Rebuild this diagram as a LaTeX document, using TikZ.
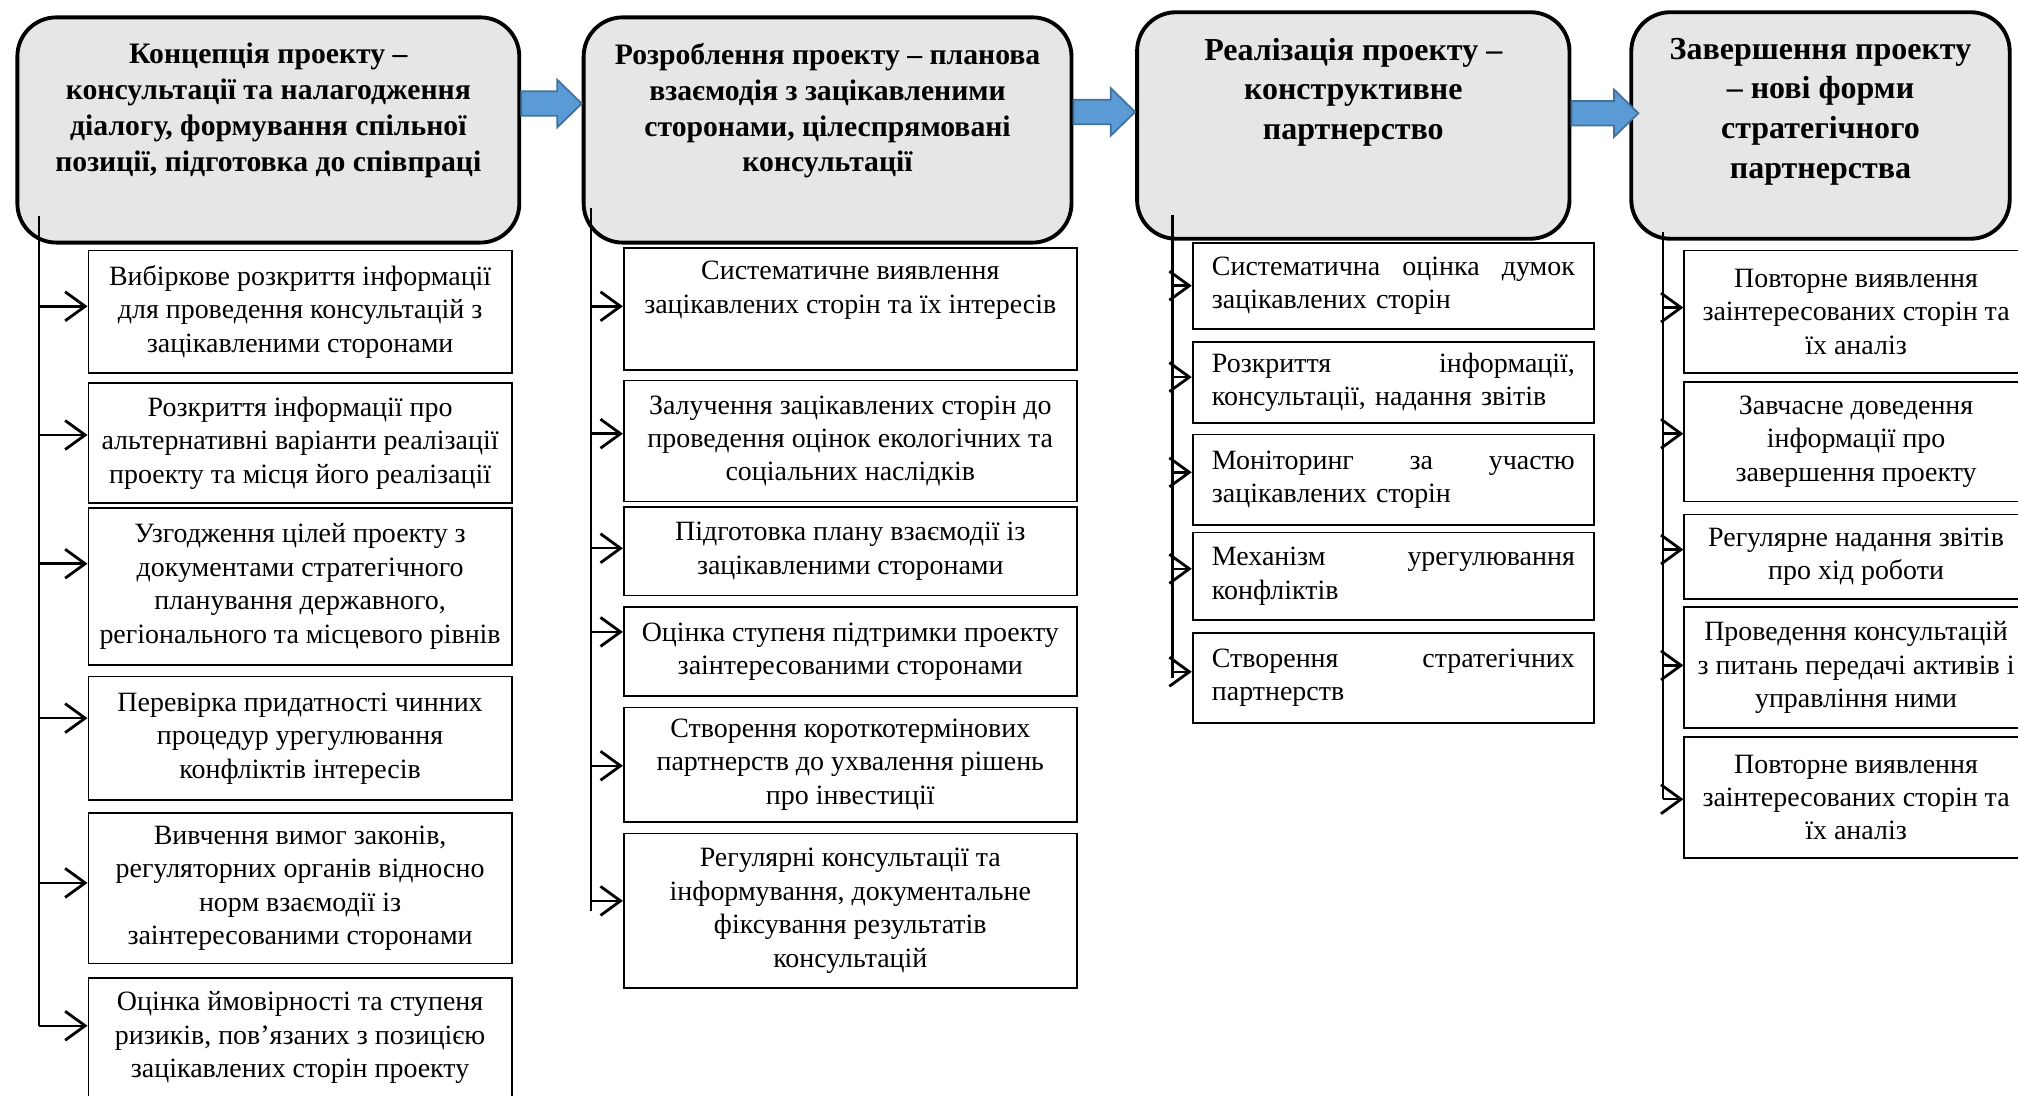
\documentclass[tikz,border=0pt]{standalone}
\usepackage{fontspec}
\setmainfont{Liberation Serif}
\usetikzlibrary{arrows.meta,calc,positioning}

\definecolor{phasefill}{HTML}{E6E6E6}
\definecolor{flowblue}{HTML}{5B9BD5}
\definecolor{flowedge}{HTML}{41719C}
\newcommand{\unitpx}{0.1287mm}

\tikzset{
  phase/.style={draw, line width=1.1pt, fill=phasefill, rounded corners=3.9mm,
    anchor=north west, inner sep=0pt},
  phasetext/.style={align=center, inner sep=0pt,
    font=\fontsize{8.45}{10.2}\selectfont\bfseries},
  item/.style={draw, line width=0.5pt, anchor=north west, align=center,
    inner sep=0pt, font=\fontsize{7.95}{9.5}\selectfont},
  itemj/.style={item, align=left, text width=36.29mm, inner xsep=1.93mm},
  spine/.style={line width=0.6pt},
  branch/.style={line width=0.7pt, -{Straight Barb[length=2mm, width=2.9mm, line width=0.8pt]}},
  bigarrow/.style={fill=flowblue, draw=flowedge, line width=0.5pt}
}

\begin{document}
\begin{tikzpicture}[x=\unitpx, y=-\unitpx]

% Frame
\useasboundingbox (0,0) rectangle (1568,851);
\clip (0,0) rectangle (1568,851);

% Phases
\node[phase, minimum width=50.19mm, minimum height=22.52mm] (p1) at (12,12) {};
\node[phase, minimum width=48.78mm, minimum height=22.52mm] (p2) at (452,12) {};
\node[phase, minimum width=43.24mm, minimum height=22.65mm] (p3) at (882,8) {};
\node[phase, minimum width=37.84mm, minimum height=22.65mm] (p4) at (1266,8) {};

\node[phasetext, below=2.7mm of p1.north] (t1) {Концепція проекту –\\ консультації та налагодження\\ діалогу, формування спільної\\ позиції, підготовка до співпраці};
\node[phasetext, below=2.7mm of p2.north] (t2) {Розроблення проекту – планова\\ взаємодія з зацікавленими\\ сторонами, цілеспрямовані\\ консультації};
\node[phasetext, font=\fontsize{9.1}{11.3}\selectfont\bfseries, below=2.7mm of p3.north] (t3) {Реалізація проекту –\\ конструктивне\\ партнерство};
\node[phasetext, font=\fontsize{9.1}{11.3}\selectfont\bfseries, below=2.7mm of p4.north] (t4) {Завершення проекту\\ – нові форми\\ стратегічного\\ партнерства};

% Flow arrows
\foreach \src/\dst/\ya/\tip in {p1/p2/80.5/0, p2/p3/87/0, p3/p4/88/7}
  \draw[bigarrow] (\src.east |- 0,\ya-9.5)
    -- ($(\dst.west |- 0,\ya-9.5)+(\tip-19,0)$)
    -- ($(\dst.west |- 0,\ya-18.5)+(\tip-19,0)$)
    -- ($(\dst.west |- 0,\ya)+(\tip,0)$)
    -- ($(\dst.west |- 0,\ya+18.5)+(\tip-19,0)$)
    -- ($(\dst.west |- 0,\ya+9.5)+(\tip-19,0)$)
    -- (\src.east |- 0,\ya+9.5) -- cycle;

% Column 1
\node[item, minimum width=42.34mm, minimum height=12.23mm] (s11) at (68,194)
  {Вибіркове розкриття інформації\\ для проведення консультацій з\\ зацікавленими сторонами};
\node[item, minimum width=42.34mm, minimum height=11.97mm] (s12) at (68,297)
  {Розкриття інформації про\\ альтернативні варіанти реалізації\\ проекту та місця його реалізації};
\node[item, minimum width=42.34mm, minimum height=15.70mm] (s13) at (68,394)
  {Узгодження цілей проекту з\\ документами стратегічного\\ планування державного,\\ регіонального та місцевого рівнів};
\node[item, minimum width=42.34mm, minimum height=12.36mm] (s14) at (68,525)
  {Перевірка придатності чинних\\ процедур урегулювання\\ конфліктів інтересів};
\node[item, minimum width=42.34mm, minimum height=15.06mm] (s15) at (68,631)
  {Вивчення вимог законів,\\ регуляторних органів відносно\\ норм взаємодії із\\ заінтересованими сторонами};
\node[item, minimum width=42.34mm, minimum height=11.97mm] (s16) at (68,759)
  {Оцінка ймовірності та ступеня\\ ризиків, пов’язаних з позицією\\ зацікавлених сторін проекту};

\coordinate (c1) at (30,168);
\coordinate (c1end) at (30,797);
\draw[spine] (c1) -- (c1end);
\foreach \sb/\ya in {s11/238, s12/338, s13/438, s14/558, s15/686, s16/797}
  \draw[branch] (c1 |- 0,\ya) -- (\sb.west |- 0,\ya);

% Column 2
\node[item, minimum width=45.30mm, minimum height=12.23mm] (s21) at (484,192)
  {Систематичне виявлення\\ зацікавлених сторін та їх інтересів\\ \strut};
\node[item, minimum width=45.30mm, minimum height=12.10mm] (s22) at (484,295)
  {Залучення зацікавлених сторін до\\ проведення оцінок екологічних та\\ соціальних наслідків};
\node[item, minimum width=45.30mm, minimum height=8.88mm] (s23) at (484,393)
  {Підготовка плану взаємодії із\\ зацікавленими сторонами};
\node[item, minimum width=45.30mm, minimum height=8.88mm] (s24) at (484,471)
  {Оцінка ступеня підтримки проекту\\ заінтересованими сторонами};
\node[item, minimum width=45.30mm, minimum height=11.45mm] (s25) at (484,549)
  {Створення короткотермінових\\ партнерств до ухвалення рішень\\ про інвестиції};
\node[item, minimum width=45.30mm, minimum height=15.44mm] (s26) at (484,647)
  {Регулярні консультації та\\ інформування, документальне\\ фіксування результатів\\ консультацій};

\coordinate (c2) at (459,162);
\coordinate (c2end) at (459,708);
\draw[spine] (c2) -- (c2end);
\foreach \sb/\ya in {s21/238, s22/337, s23/426, s24/491, s25/595, s26/700}
  \draw[branch] (c2 |- 0,\ya) -- (\sb.west |- 0,\ya);

% Column 3
\node[itemj, minimum height=8.62mm] (s31) at (926,188)
  {Систематична\hfill оцінка\hfill думок\\ зацікавлених сторін};
\node[itemj, minimum height=8.11mm] (s32) at (926,265)
  {Розкриття\hfill інформації,\\ консультації, надання звітів};
\node[itemj, minimum height=9.01mm] (s33) at (926,337)
  {Моніторинг\hfill за\hfill участю\\ зацікавлених сторін};
\node[itemj, minimum height=8.75mm] (s34) at (926,413)
  {Механізм\hfill урегулювання\\ конфліктів};
\node[itemj, minimum height=9.01mm] (s35) at (926,491)
  {Створення\hfill стратегічних\\ партнерств};

\coordinate (c3) at (911,167);
\coordinate (c3end) at (911,527);
\draw[spine] (c3) -- (c3end);
\foreach \sb/\ya in {s31/222, s32/293, s33/367, s34/442, s35/522}
  \draw[branch] (c3 |- 0,\ya) -- (\sb.west |- 0,\ya);

% Column 4
\node[item, minimum width=34.36mm, minimum height=12.23mm] (s41) at (1308,194)
  {Повторне виявлення\\ заінтересованих сторін та\\ їх аналіз};
\node[item, minimum width=34.36mm, minimum height=11.97mm] (s42) at (1308,296)
  {Завчасне доведення\\ інформації про\\ завершення проекту};
\node[item, minimum width=34.36mm, minimum height=8.49mm] (s43) at (1308,399)
  {Регулярне надання звітів\\ про хід роботи};
\node[item, minimum width=34.36mm, minimum height=12.10mm] (s44) at (1308,471)
  {Проведення консультацій\\ з питань передачі активів і\\ управління ними};
\node[item, minimum width=34.36mm, minimum height=12.10mm] (s45) at (1308,572)
  {Повторне виявлення\\ заінтересованих сторін та\\ їх аналіз};

\coordinate (c4) at (1292,180);
\coordinate (c4end) at (1292,621);
\draw[spine] (c4) -- (c4end);
\foreach \sb/\ya in {s41/239, s42/337, s43/427, s44/517, s45/621}
  \draw[branch] (c4 |- 0,\ya) -- (\sb.west |- 0,\ya);

\end{tikzpicture}
\end{document}
